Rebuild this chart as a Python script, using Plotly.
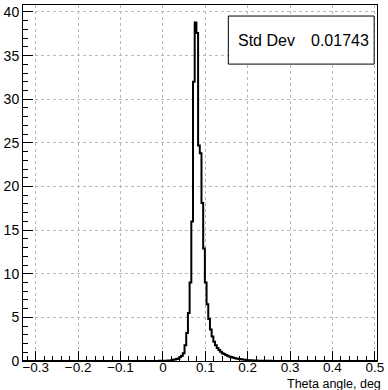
import numpy as np
import plotly.graph_objects as go

# Histogram data (bin width 0.004, first bin lower edge below)
bin_start = -0.021
bin_width = 0.004
counts = [
    0.0, 0.01, 0.01, 0.02, 0.02, 0.02, 0.03,          # -0.021 .. 0.003
    0.04, 0.05, 0.07, 0.1, 0.13, 0.17, 0.22, 0.3,     # 0.003 .. 0.035
    0.45, 0.6, 0.9, 1.8, 3.2, 5.5, 9.0, 16.0,         # 0.035 .. 0.067
    32.0, 38.8, 37.6, 24.7, 23.8, 18.1, 12.9, 9.0,    # 0.071 .. 0.099
    6.5, 4.8, 3.6, 2.8, 2.2, 1.8, 1.5, 1.25,          # 0.103 .. 0.131
    1.05, 0.9, 0.8, 0.7, 0.6, 0.52, 0.45, 0.4,        # 0.135 .. 0.163
    0.35, 0.3, 0.26, 0.22, 0.19, 0.16, 0.14, 0.12,    # 0.167 .. 0.195
    0.1, 0.09, 0.08, 0.07, 0.06, 0.05, 0.04, 0.04,    # 0.199 .. 0.227
    0.03, 0.03, 0.02, 0.02, 0.02, 0.02, 0.01, 0.01,   # 0.231 .. 0.259
    0.01, 0.01, 0.01, 0.0,
]
x_range = [-0.33, 0.505]
y_range = [0, 40.8]
x_ticks = [-0.3, -0.2, -0.1, 0, 0.1, 0.2, 0.3, 0.4, 0.5]
x_ticklabels = ["\u22120.3", "\u22120.2", "\u22120.1", "0", "0.1", "0.2", "0.3", "0.4", "0.5"]
y_ticks = [0, 5, 10, 15, 20, 25, 30, 35, 40]
stat_name = "Std Dev"
stat_value = "0.01743"
x_title = "Theta angle, deg"

edges = bin_start + bin_width * np.arange(len(counts) + 1)
xs = np.concatenate([[x_range[0]], edges, [x_range[1]]])
ys = np.concatenate([[0.0], counts, [0.0, 0.0]])

fig = go.Figure()
fig.add_trace(go.Scatter(
    x=xs, y=ys, mode="lines", line=dict(shape="hv", color="black", width=2),
    hoverinfo="skip", showlegend=False,
))

family = "Liberation Sans, Arial, sans-serif"
font = dict(family=family, size=14, color="black")

fig.update_layout(
    width=388, height=390,
    margin=dict(l=23, r=4, t=5, b=29),
    paper_bgcolor="white", plot_bgcolor="white",
    font=font,
    showlegend=False,
    xaxis=dict(
        range=x_range, tickvals=x_ticks, ticktext=x_ticklabels,
        showline=True, linecolor="black", linewidth=1, mirror=True,
        ticks="inside", ticklen=10, tickcolor="black", tickwidth=1,
        minor=dict(dtick=0.02, tick0=0, ticks="inside", ticklen=5, tickcolor="black", showgrid=False),
        showgrid=True, gridcolor="#b8b8b8", griddash="dot", gridwidth=1,
        zeroline=False, tickfont=dict(family=family, size=13.5, color="black"),
        ticklabeloverflow="allow", ticklabelstandoff=-6,
    ),
    yaxis=dict(
        range=y_range, tickvals=y_ticks,
        showline=True, linecolor="black", linewidth=1, mirror=True,
        ticks="inside", ticklen=10, tickcolor="black", tickwidth=1,
        minor=dict(dtick=1, tick0=0, ticks="inside", ticklen=5, tickcolor="black", showgrid=False),
        showgrid=True, gridcolor="#b8b8b8", griddash="dot", gridwidth=1,
        zeroline=False, tickfont=font, ticklabeloverflow="allow",
    ),
)

# Stats box
fig.add_shape(type="rect", xref="paper", yref="paper",
              x0=0.580, x1=0.992, y0=0.834, y1=0.969,
              line=dict(color="black", width=1), fillcolor="white", layer="above")
fig.add_annotation(xref="paper", yref="paper", x=0.601, y=0.9015, xanchor="left", yanchor="middle",
                   text=stat_name, showarrow=False, font=dict(family=family, size=16, color="black"))
fig.add_annotation(xref="paper", yref="paper", x=0.983, y=0.9015, xanchor="right", yanchor="middle",
                   text=stat_value, showarrow=False, font=dict(family=family, size=16, color="black"))

# Axis title at the right end
fig.add_annotation(xref="paper", yref="paper", x=1.014, y=-0.064, xanchor="right", yanchor="middle",
                   text=x_title, showarrow=False, borderpad=0,
                   font=dict(family=family, size=12.5, color="black"))

fig.write_html("out.html")
